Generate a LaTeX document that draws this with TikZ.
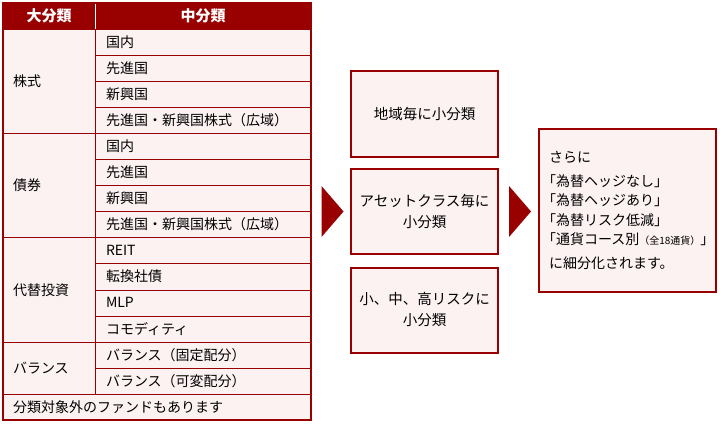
\documentclass[tikz,border=0pt]{standalone}
\usepackage{fontspec}
\setmainfont{Noto Sans CJK JP}
\newfontfamily\halfpunct{Noto Sans CJK JP}[RawFeature=+halt]
\usepackage{tikz}
\usetikzlibrary{shapes.geometric}
\definecolor{darkred}{RGB}{153,0,0}
\definecolor{pinkbg}{RGB}{253,242,242}
\tikzstyle{Head}=[rectangle, fill=darkred, text=white, font=\bfseries\fontsize{15}{16}\selectfont, minimum height=26.07pt, inner sep=0pt, outer sep=0pt]
\tikzstyle{Cell}=[rectangle, draw=darkred, fill=pinkbg, font=\fontsize{14}{16}\selectfont, minimum height=26.07pt, inner xsep=11pt, inner ysep=0pt, outer sep=0pt, text width=194pt, align=left, anchor=north west]
\tikzstyle{Group}=[Cell, text width=72pt, inner xsep=10pt, anchor=north east]
\tikzstyle{Box}=[rectangle, draw=darkred, line width=2pt, fill=pinkbg, font=\fontsize{14.5}{21}\selectfont, minimum width=147pt, minimum height=85pt, align=center, inner sep=0pt]
\tikzstyle{Arrow}=[isosceles triangle, isosceles triangle stretches, shape border rotate=0, fill=darkred, minimum width=51pt, minimum height=22pt, inner sep=0pt]

\begin{document}
\begin{tikzpicture}[x=1pt, y=-1pt]
    \useasboundingbox (0,0) rectangle (720,428);
    \path
    (3,2.93) node[Head, anchor=north west, minimum width=92pt] (h1) {大分類}
    (95,2.93) node[Head, anchor=north west, minimum width=216pt] (h2) {中分類}
    (h2.south west) node[Cell] (m0) {国内}
    (m0.south west) node[Cell] (m1) {先進国}
    (m1.south west) node[Cell] (m2) {新興国}
    (m2.south west) node[Cell] (m3) {先進国・新興国株式（広域）}
    (m3.south west) node[Cell] (m4) {国内}
    (m4.south west) node[Cell] (m5) {先進国}
    (m5.south west) node[Cell] (m6) {新興国}
    (m6.south west) node[Cell] (m7) {先進国・新興国株式（広域）}
    (m7.south west) node[Cell] (m8) {REIT}
    (m8.south west) node[Cell] (m9) {転換社債}
    (m9.south west) node[Cell] (m10) {MLP}
    (m10.south west) node[Cell] (m11) {コモディティ}
    (m11.south west) node[Cell] (m12) {バランス（固定配分）}
    (m12.south west) node[Cell] (m13) {バランス（可変配分）};

    \path (m0.north west) node[Group, minimum height=104.28pt] (stock) {株式}
    (m4.north west) node[Group, minimum height=104.28pt] (bond) {債券}
    (m8.north west) node[Group, minimum height=104.28pt] (alt) {代替投資}
    (m12.north west) node[Group, minimum height=52.14pt] (bal) {バランス}
    (bal.south west) node[Cell, text width=288pt, inner xsep=10pt] (note) {分類対象外のファンドもあります};

    \draw[white] (h1.north east) -- (h1.south east);
    \draw[darkred, line width=2pt] (h1.north west) rectangle (note.south east);

    \path (424.5,114) node[Box] (region) {地域毎に小分類}
    (424.5,211.5) node[Box] (asset) {アセットクラス毎に\\小分類}
    (424.5,310) node[Box] (risk) {小、中、高リスクに\\小分類}
    (627.5,210.5) node[Box, minimum width=177pt, minimum height=163pt, text width=157pt, align=left, font=\halfpunct\fontsize{14}{19.5}\selectfont] (hedge) {さらに\\[4pt]
        「為替ヘッジなし」\\
        「為替ヘッジあり」\\
        「為替リスク低減」\\
        「通貨コース別{\rmfamily\fontsize{10}{10}\selectfont（全18通貨）}」\\[4pt]
        に細分化されます。};

    \path (331,211.5) node[Arrow] (arr1) {}
    (518.5,211.5) node[Arrow] (arr2) {};
\end{tikzpicture}
\end{document}
